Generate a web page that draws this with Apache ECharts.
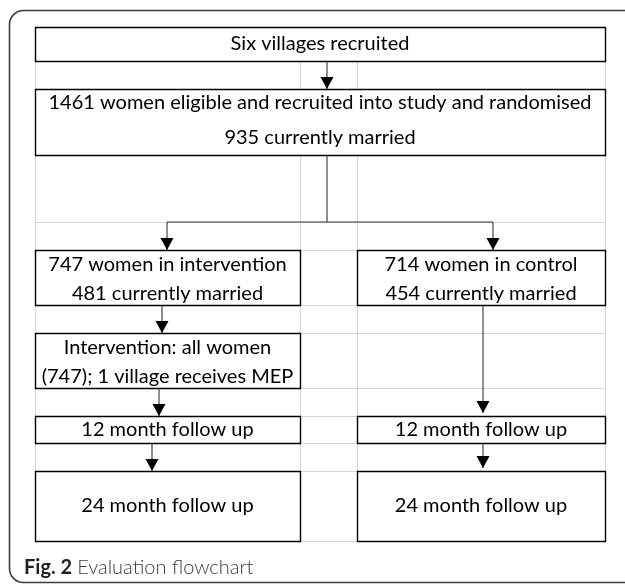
<!DOCTYPE html>
<html><head><meta charset="utf-8">
<script src="https://cdn.jsdelivr.net/npm/echarts@6/dist/echarts.min.js"></script>
<style>html,body{margin:0;padding:0;background:#fff}#c{width:625px;height:588px}</style>
</head><body><div id="c"></div>
<script>
// Sheet layout: column widths and row heights (sheet units)
const colWidths = [265, 57, 248];
const rowHeights = [34, 28, 66, 67, 28, 55, 28, 55, 28, 27, 28, 70];

// Boxes
const boxLabels = [
  "Six villages recruited",
  "1461 women eligible and recruited into study and randomised\n935 currently married",
  "747 women in intervention\n481 currently married",
  "714 women in control\n454 currently married",
  "Intervention: all women\n(747); 1 village receives MEP",
  "12 month follow up",
  "12 month follow up",
  "24 month follow up",
  "24 month follow up"
];
const boxCols = [[0,3],[0,3],[0,1],[2,3],[0,1],[0,1],[2,3],[0,1],[2,3]];
const boxRows = [[0,1],[2,3],[5,6],[5,6],[7,8],[9,10],[9,10],[11,12],[11,12]];

// Connectors: polylines in sheet units, last point gets an arrowhead when flagged
const connectors = [
  [[292,34],[292,62]],
  [[292,128],[292,195]],
  [[132,195],[458,195]],
  [[132,195],[132,223]],
  [[458,195],[458,223]],
  [[127,278],[127,306]],
  [[448,278],[448,386]],
  [[124,361],[124,389]],
  [[448,416],[448,441]],
  [[117,416],[117,444]]
];
const connectorArrow = [1,0,0,1,1,1,1,1,1,1];

const colEdges = [0]; colWidths.forEach(w => colEdges.push(colEdges[colEdges.length-1] + w));
const rowEdges = [0]; rowHeights.forEach(h => rowEdges.push(rowEdges[rowEdges.length-1] + h));
const W = colEdges[colEdges.length-1], H = rowEdges[rowEdges.length-1];

const FONT = 'Lato, "Open Sans", sans-serif';

const gridData = [];
colEdges.forEach(x => gridData.push([x, 0, x, H]));
rowEdges.forEach(y => gridData.push([0, y, W, y]));

const boxData = boxLabels.map((t, i) => [colEdges[boxCols[i][0]], colEdges[boxCols[i][1]], rowEdges[boxRows[i][0]], rowEdges[boxRows[i][1]], i]);

const chart = echarts.init(document.getElementById('c'), null, {renderer: 'canvas'});
chart.setOption({
  animation: false,
  backgroundColor: '#fff',
  title: {
    left: 19, top: 553,
    text: '{b|Fig. 2} {n|Evaluation flowchart}',
    textStyle: {
      rich: {
        b: {fontFamily: FONT, fontSize: 20, fontWeight: 'bold', color: '#231f20'},
        n: {fontFamily: FONT, fontSize: 20, fontWeight: 300, color: '#3a3a3a'}
      }
    }
  },
  graphic: [{
    type: 'rect', z: -10, silent: true,
    shape: {x: 9.5, y: 10.5, width: 650, height: 572, r: 14},
    style: {fill: 'none', stroke: '#3c3c3c', lineWidth: 1.6}
  }],
  grid: {left: 35, top: 27, width: W, height: H},
  xAxis: {type: 'value', min: 0, max: W, show: false},
  yAxis: {type: 'value', min: 0, max: H, inverse: true, show: false},
  series: [
    {
      type: 'custom', z: 1, clip: false, silent: true,
      data: gridData,
      renderItem: (params, api) => {
        const a = api.coord([api.value(0), api.value(1)]);
        const b = api.coord([api.value(2), api.value(3)]);
        return {type: 'line', shape: {x1: Math.round(a[0]) + 0.5, y1: Math.round(a[1]) + 0.5, x2: Math.round(b[0]) + 0.5, y2: Math.round(b[1]) + 0.5},
          style: {stroke: '#d6d6d6', lineWidth: 1}};
      }
    },
    {
      type: 'custom', z: 2, clip: false, silent: true,
      data: boxData,
      renderItem: (params, api) => {
        const a = api.coord([api.value(0), api.value(2)]);
        const b = api.coord([api.value(1), api.value(3)]);
        const i = api.value(4);
        const label = boxLabels[i];
        const lines = label.split('\n').length;
        const lh = i === 1 ? 35 : 29;
        const yc = (a[1] + b[1]) / 2 + (i === 1 ? -2 : (lines > 1 ? 1.5 : 0));
        return {type: 'group', children: [
          {type: 'rect', shape: {x: Math.round(a[0]) + 0.5, y: Math.round(a[1]) + 0.5, width: Math.round(b[0] - a[0]), height: Math.round(b[1] - a[1])},
            style: {fill: '#fff', stroke: '#000', lineWidth: 1.4}},
          {type: 'text', style: {text: label, x: (a[0] + b[0]) / 2, y: yc, align: 'center', verticalAlign: 'middle',
            fontFamily: FONT, fontSize: 20, lineHeight: lh, fill: '#000'}}
        ]};
      }
    },
    {
      type: 'custom', z: 3, clip: false, silent: true,
      data: connectors.map((c, i) => [i]),
      renderItem: (params, api) => {
        const i = api.value(0);
        const pts = connectors[i].map(p => api.coord(p));
        const children = [{type: 'polyline', shape: {points: pts}, style: {stroke: '#333', lineWidth: 1.1, fill: 'none'}}];
        if (connectorArrow[i]) {
          const e = pts[pts.length - 1];
          children.push({type: 'polygon', shape: {points: [[e[0] - 6.5, e[1] - 12], [e[0] + 6.5, e[1] - 12], [e[0], e[1]]]}, style: {fill: '#000'}});
        }
        return {type: 'group', children};
      }
    }
  ]
});
</script></body></html>
